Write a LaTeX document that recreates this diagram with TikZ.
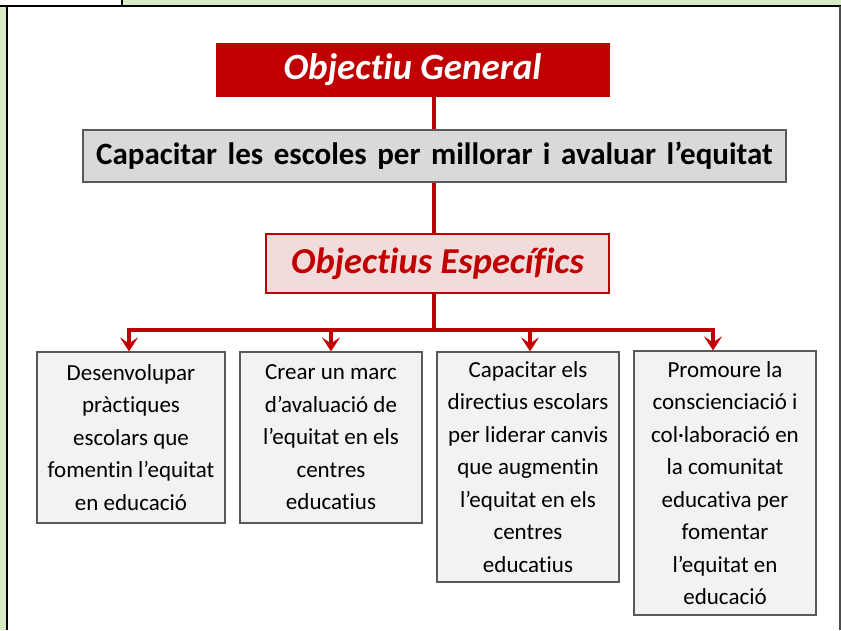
\documentclass[tikz,border=0pt]{standalone}
\usepackage{fontspec}
\setmainfont{Carlito}[Ligatures=NoCommon]
\newfontfamily\capfont{Carlito}[Ligatures=NoCommon, WordSpace=1.5]
\usetikzlibrary{arrows.meta}
\definecolor{dred}{HTML}{C00000}
\definecolor{frameg}{HTML}{D8EBC6}
\definecolor{capfill}{HTML}{D9D9D9}
\definecolor{specfill}{HTML}{F2DCDB}
\definecolor{boxfill}{HTML}{F2F2F2}
\definecolor{boxline}{HTML}{595959}
\tikzset{
  genbox/.style={fill=dred, draw=dred, minimum width=393pt, minimum height=53pt, inner sep=0pt,
    text=white, font=\fontsize{37}{37}\selectfont\bfseries\itshape},
  capbox/.style={fill=capfill, draw=boxline, line width=1.3pt, minimum width=703pt, minimum height=52pt, inner sep=0pt,
    font=\capfont\fontsize{31}{31}\selectfont\bfseries},
  specbox/.style={fill=specfill, draw=dred, line width=1.6pt, minimum width=343pt, minimum height=59pt, inner sep=0pt,
    text=dred, font=\fontsize{36.5}{36.5}\selectfont\bfseries\itshape},
  objbox/.style={fill=boxfill, draw=boxline, line width=1.2pt, inner sep=0pt, align=center,
    font=\fontsize{23}{32.5}\selectfont},
  conn/.style={draw=dred, line width=3.2pt},
  arr/.style={conn, -{Stealth[length=14pt, width=18pt, inset=6pt]}},
}
\begin{document}
\begin{tikzpicture}[x=1pt, y=-1pt]
\useasboundingbox (0,0) rectangle (841,630);
\fill[white] (0,0) rectangle (841,630);
% frame remnants
\fill[frameg] (123,0) rectangle (841,5);
\fill[frameg] (0,6) rectangle (6,630);
\draw[black, line width=2pt] (0,6) -- (841,6);
\draw[black, line width=2pt] (122,0) -- (122,6);
\draw[black, line width=2pt] (7,6) -- (7,630);
\draw[black!70, line width=1.5pt] (840,6) -- (840,630);

\coordinate (axis) at (434,0);
\node[genbox] (gen) at (412.5,69.5) {Objectiu General};
\node[capbox] (cap) at (434.5,156) {Capacitar les escoles per millorar i avaluar l’equitat};
\node[specbox] (spec) at (437.5,263.5) {Objectius Específics};

\node[objbox, minimum width=188pt, minimum height=171pt] (b1) at (131,437.5)
  {Desenvolupar\\pràctiques\\escolars que\\fomentin l’equitat\\en educació};
\node[objbox, minimum width=182pt, minimum height=171pt] (b2) at (331,437.5)
  {Crear un marc\\d’avaluació de\\l’equitat en els\\centres\\educatius};
\node[objbox, minimum width=182pt, minimum height=230pt] (b3) at (528,467)
  {Capacitar els\\directius escolars\\per liderar canvis\\que augmentin\\l’equitat en els\\centres\\educatius};
\node[objbox, minimum width=182pt, minimum height=264pt] (b4) at (725,483)
  {Promoure la\\conscienciació i\\col·laboració en\\la comunitat\\educativa per\\fomentar\\l’equitat en\\educació};

\coordinate (j) at (434,330);
\coordinate (h1) at (129,330);
\coordinate (h2) at (331,330);
\coordinate (h3) at (530,330);
\coordinate (h4) at (713,330);

\draw[conn] (gen.south -| axis) -- (cap.north -| axis);
\draw[conn] (cap.south -| axis) -- (spec.north -| axis);
\draw[conn] (spec.south -| axis) -- (j);
\draw[conn] ([xshift=-1.6pt]h1) -- ([xshift=1.6pt]h4);
\draw[arr] ([yshift=-1.6pt]h1) -- (h1 |- b1.north);
\draw[arr] (h2) -- (h2 |- b2.north);
\draw[arr] (h3) -- (h3 |- b3.north);
\draw[arr] ([yshift=-1.6pt]h4) -- (h4 |- b4.north);
\end{tikzpicture}
\end{document}
